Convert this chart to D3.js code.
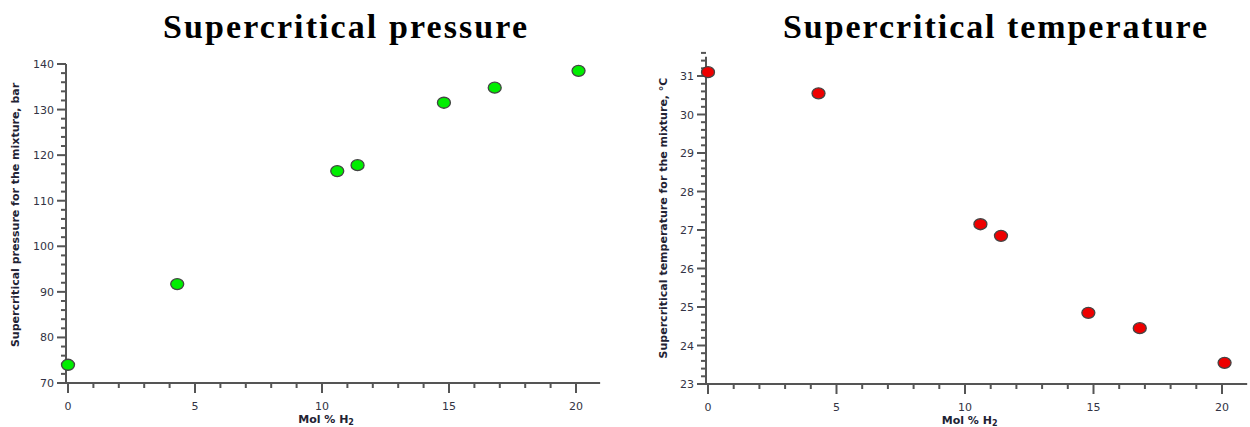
<!DOCTYPE html>
<html>
<head>
<meta charset="utf-8">
<script src="https://cdn.jsdelivr.net/npm/d3@7"></script>
<style>
  body { margin: 0; background: #fff; }
  svg text { font-family: "DejaVu Sans", Verdana, sans-serif; }
</style>
</head>
<body>
<div id="chart"></div>
<script>
// data
const molH2 = [0, 4.3, 10.6, 11.4, 14.8, 16.8, 20.1];
const pressure = [74.0, 91.7, 116.5, 117.8, 131.5, 134.8, 138.5];
const temperature = [31.1, 30.55, 27.15, 26.85, 24.85, 24.45, 23.55];
const xTicks = [0, 5, 10, 15, 20];
const pressureTicks = [70, 80, 90, 100, 110, 120, 130, 140];
const tempTicks = [23, 24, 25, 26, 27, 28, 29, 30, 31];

const w = 1250, h = 427;
const svg = d3.select("#chart").append("svg").attr("width", w).attr("height", h);

function panel(opt) {
  const g = svg.append("g");
  const x = d3.scaleLinear().domain([0, 20]).range([opt.x0, opt.x20]);
  const y = d3.scaleLinear().domain([opt.yMin, opt.yMax]).range([opt.yBottom, opt.yTop]);
  const axisX = x(0) - 2;

  // title
  g.append("text")
    .attr("x", opt.titleX - opt.titleLen / 2).attr("y", 38)
    .attr("textLength", opt.titleLen).attr("lengthAdjust", "spacing")
    .style("font-family", "'Liberation Serif', serif")
    .style("font-weight", "bold")
    .style("font-size", "34px")
    .attr("fill", "#000")
    .text(opt.title);

  const axisColor = "#555";
  // x axis
  const minorX = d3.range(0, 21, 1);
  const xg = g.append("g").attr("transform", "translate(0," + opt.yBottom + ")");
  xg.append("line")
    .attr("x1", axisX).attr("x2", x(opt.xEnd))
    .attr("stroke", axisColor).attr("stroke-width", 2);
  xg.selectAll("line.tk").data(minorX).enter().append("line")
    .attr("class", "tk")
    .attr("x1", d => x(d)).attr("x2", d => x(d))
    .attr("y1", 0).attr("y2", d => d % 5 === 0 ? 10 : 5)
    .attr("stroke", axisColor).attr("stroke-width", 2);
  xg.selectAll("text").data(xTicks).enter().append("text")
    .attr("x", d => x(d)).attr("y", 27)
    .attr("text-anchor", "middle")
    .style("font-size", "11px").attr("fill", "#334")
    .text(d => d);
  const xl = g.append("text")
    .attr("x", (x(0) + x(opt.xEnd)) / 2 - 8).attr("y", opt.yBottom + 40)
    .attr("text-anchor", "middle")
    .style("font-size", "11px").style("font-weight", "bold").attr("fill", "#223");
  xl.append("tspan").text("Mol % H");
  xl.append("tspan").attr("dy", 2).style("font-size", "8px").text("2");

  // y axis
  const yg = g.append("g").attr("transform", "translate(" + axisX + ",0)");
  yg.append("line")
    .attr("y1", opt.yBottom + 1).attr("y2", y(opt.yTopVal))
    .attr("stroke", axisColor).attr("stroke-width", 2);
  const minorY = d3.range(0, Math.round((opt.yTopVal - opt.yMin) / opt.minorStep) + 1)
    .map(i => opt.yMin + i * opt.minorStep);
  yg.selectAll("line.tk").data(minorY).enter().append("line")
    .attr("class", "tk")
    .attr("y1", d => y(d)).attr("y2", d => y(d))
    .attr("x1", 0).attr("x2", (d, i) => i % opt.perMajor === 0 ? -9 : -5)
    .attr("stroke", axisColor).attr("stroke-width", 2);
  yg.selectAll("text").data(opt.yTicks).enter().append("text")
    .attr("x", -12).attr("y", d => y(d) + 4)
    .attr("text-anchor", "end")
    .style("font-size", "11px").attr("fill", "#334")
    .text(d => d);
  g.append("text")
    .attr("transform", "translate(" + opt.yLabelX + "," + opt.yLabelY + ") rotate(-90)")
    .attr("text-anchor", "middle")
    .style("font-size", "11px").style("font-weight", "bold").attr("fill", "#223")
    .text(opt.yLabel);

  // points
  g.selectAll("ellipse").data(molH2).enter().append("ellipse")
    .attr("cx", d => x(d))
    .attr("cy", (d, i) => y(opt.values[i]))
    .attr("rx", 6.5).attr("ry", 5.5)
    .attr("fill", opt.color)
    .attr("stroke", "#444").attr("stroke-width", 1.3);
}

panel({
  title: "Supercritical pressure", titleX: 345, titleLen: 364,
  x0: 68, x20: 576, xEnd: 20.95,
  yMin: 70, yMax: 140, yTopVal: 140, yBottom: 383, yTop: 64,
  minorStep: 2, perMajor: 5, yTicks: pressureTicks,
  yLabel: "Supercritical pressure for the mixture, bar", yLabelX: 19, yLabelY: 215,
  values: pressure, color: "#00ee00"
});

panel({
  title: "Supercritical temperature", titleX: 995, titleLen: 424,
  x0: 708, x20: 1222, xEnd: 20.98,
  yMin: 23, yMax: 31, yTopVal: 31.5, yBottom: 384, yTop: 76,
  minorStep: 0.2, perMajor: 5, yTicks: tempTicks,
  yLabel: "Supercritical temperature for the mixture, \u00b0C", yLabelX: 667, yLabelY: 218,
  values: temperature, color: "#ee0000"
});
</script>
</body>
</html>
